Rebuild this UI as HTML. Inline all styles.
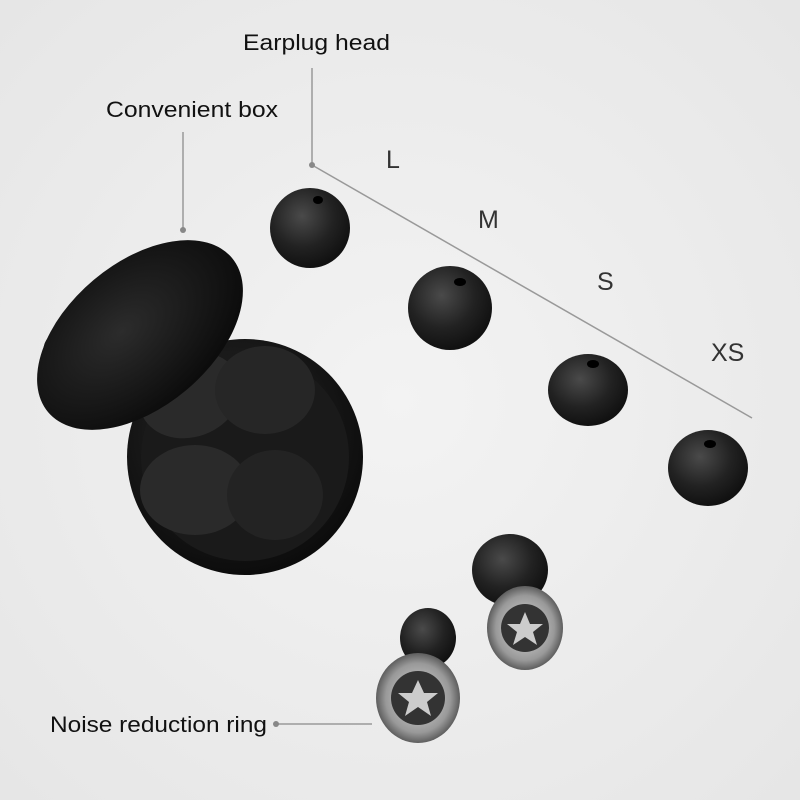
<!DOCTYPE html>
<html><head><style>
body{margin:0;width:800px;height:800px;overflow:hidden;background:#eeeeee;font-family:"Liberation Sans",sans-serif}
svg{position:absolute;left:0;top:0}
</style></head><body>
<svg width="800" height="800" viewBox="0 0 800 800">
<defs>
<radialGradient id="bg" cx="50%" cy="50%" r="70%"><stop offset="0" stop-color="#f3f3f3"/><stop offset="1" stop-color="#e6e6e6"/></radialGradient>
<radialGradient id="dome" cx="40%" cy="35%" r="65%"><stop offset="0" stop-color="#4a4a4a"/><stop offset="0.6" stop-color="#222"/><stop offset="1" stop-color="#111"/></radialGradient>
<radialGradient id="case" cx="45%" cy="40%" r="60%"><stop offset="0" stop-color="#2c2c2c"/><stop offset="1" stop-color="#0c0c0c"/></radialGradient>
<radialGradient id="clear" cx="50%" cy="50%" r="55%"><stop offset="0" stop-color="#ddd"/><stop offset="0.7" stop-color="#999"/><stop offset="1" stop-color="#444"/></radialGradient>
</defs>
<rect width="800" height="800" fill="url(#bg)"/>
<g stroke="#999" stroke-width="1.5" fill="none">
<line x1="312" y1="68" x2="312" y2="165"/>
<line x1="312" y1="165" x2="752" y2="418"/>
<line x1="183" y1="132" x2="183" y2="230"/>
<line x1="276" y1="724" x2="372" y2="724"/>
</g>
<g fill="#888"><circle cx="312" cy="165" r="3"/><circle cx="183" cy="230" r="3"/><circle cx="276" cy="724" r="3"/></g>
<g font-size="22" fill="#111">
<text x="243" y="50" textLength="147" lengthAdjust="spacingAndGlyphs">Earplug head</text>
<text x="106" y="117" textLength="172" lengthAdjust="spacingAndGlyphs">Convenient box</text>
<text x="50" y="732" textLength="217" lengthAdjust="spacingAndGlyphs">Noise reduction ring</text>
</g>
<g font-size="25" fill="#333">
<text x="386" y="168">L</text><text x="478" y="228">M</text><text x="597" y="290">S</text><text x="711" y="361">XS</text>
</g>
<!-- case -->
<circle cx="245" cy="457" r="118" fill="url(#case)"/>
<circle cx="245" cy="457" r="104" fill="#1a1a1a"/>
<ellipse cx="190" cy="395" rx="52" ry="42" fill="#2a2a2a" transform="rotate(-20 190 395)"/>
<ellipse cx="265" cy="390" rx="50" ry="44" fill="#262626"/>
<ellipse cx="195" cy="490" rx="55" ry="45" fill="#2a2a2a"/>
<ellipse cx="275" cy="495" rx="48" ry="45" fill="#232323"/>
<ellipse cx="75" cy="350" rx="28" ry="20" fill="none" stroke="#111" stroke-width="7"/>
<ellipse cx="140" cy="335" rx="120" ry="72" fill="url(#case)" transform="rotate(-40 140 335)"/>
<!-- heads -->
<g fill="url(#dome)">
<ellipse cx="310" cy="228" rx="40" ry="40"/>
<ellipse cx="450" cy="308" rx="42" ry="42"/>
<ellipse cx="588" cy="390" rx="40" ry="36"/>
<ellipse cx="708" cy="468" rx="40" ry="38"/>
</g>
<g fill="#000"><ellipse cx="318" cy="200" rx="5" ry="4"/><ellipse cx="460" cy="282" rx="6" ry="4"/><ellipse cx="593" cy="364" rx="6" ry="4"/><ellipse cx="710" cy="444" rx="6" ry="4"/></g>
<!-- earplugs -->
<ellipse cx="510" cy="570" rx="38" ry="36" fill="url(#dome)"/>
<ellipse cx="525" cy="628" rx="38" ry="42" fill="url(#clear)"/>
<circle cx="525" cy="628" r="24" fill="#333"/>
<polygon points="525,612 530,624 543,624 533,632 537,645 525,637 513,645 517,632 507,624 520,624" fill="#ccc"/>
<ellipse cx="428" cy="638" rx="28" ry="30" fill="url(#dome)"/>
<ellipse cx="418" cy="698" rx="42" ry="45" fill="url(#clear)"/>
<circle cx="418" cy="698" r="27" fill="#333"/>
<polygon points="418,680 424,693 438,693 427,702 431,716 418,707 405,716 409,702 398,693 412,693" fill="#ccc"/>
</svg>
</body></html>
